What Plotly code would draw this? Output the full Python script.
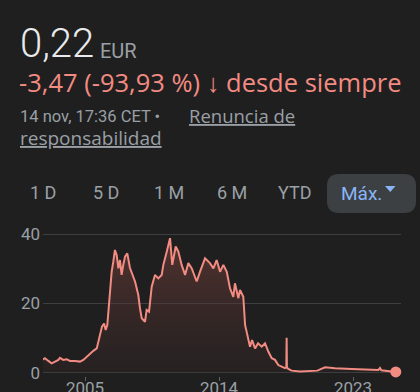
import plotly.graph_objects as go

# ---- data (decimal years, price in EUR) ----
years = [2002.13, 2002.31, 2002.54, 2002.76, 2002.99, 2003.21, 2003.32, 2003.54, 2003.77, 2003.99,
         2004.33, 2004.66, 2004.89, 2005.11, 2005.34, 2005.56, 2005.79, 2005.89, 2006.01, 2006.14,
         2006.28, 2006.39, 2006.50, 2006.56, 2006.68, 2006.79, 2006.90, 2007.01, 2007.13, 2007.24,
         2007.35, 2007.46, 2007.57, 2007.69, 2007.84, 2008.02, 2008.36, 2008.58, 2008.69, 2008.81,
         2009.03, 2009.14, 2009.30, 2009.48, 2009.70, 2009.92, 2010.15, 2010.26, 2010.49, 2010.71,
         2010.86, 2011.09, 2011.27, 2011.49, 2011.72, 2011.94, 2012.17, 2012.50, 2012.72, 2013.06,
         2013.39, 2013.62, 2013.84, 2014.07, 2014.29, 2014.52, 2014.74, 2014.96, 2015.07, 2015.30,
         2015.41, 2015.63, 2015.75, 2015.88, 2016.08, 2016.22, 2016.42, 2016.62, 2016.87, 2017.09,
         2017.31, 2017.54, 2017.76, 2017.98, 2018.21, 2018.43, 2018.52, 2018.54, 2018.56, 2018.65,
         2018.88, 2019.43, 2020.1, 2020.6, 2021.12, 2021.79, 2022.91, 2024.7, 2024.81, 2024.9,
         2025.87]
prices = [3.7, 4.2, 3.4, 2.7, 3.2, 3.7, 4.3, 3.7, 3.9, 3.4,
          3.4, 3.2, 3.7, 4.6, 5.6, 6.3, 7.0, 8.9, 10.4, 13.3,
          14.2, 12.3, 13.8, 17.6, 23.4, 29.1, 32.0, 35.4, 33.9, 30.1,
          32.5, 28.2, 31.1, 33.5, 34.4, 30.2, 26.3, 22.4, 18.6, 15.7,
          14.7, 18.1, 17.6, 24.8, 28.2, 27.2, 28.2, 31.1, 34.9, 38.8,
          31.1, 36.4, 34.9, 31.1, 28.2, 31.6, 30.1, 26.3, 29.1, 33.0,
          31.6, 30.1, 32.5, 29.1, 31.1, 29.1, 24.3, 21.9, 25.8, 21.5,
          23.9, 21.9, 13.8, 10.9, 7.5, 9.4, 7.0, 8.5, 7.5, 8.5,
          6.1, 4.2, 3.7, 2.2, 1.7, 1.3, 1.5, 10.1, 1.5, 1.1,
          0.6, 0.35, 0.5, 0.6, 1.56, 1.3, 1.1, 0.8, 1.35, 0.7,
          0.22]
y_ticks = [0, 20, 40]
x_ticks = [2005, 2014, 2023]
x_tick_labels = ["2005", "2014", "2023"]
ranges = ["1 D", "5 D", "1 M", "6 M", "YTD"]

W, H = 420, 392
BG = "#1f1f1f"
RED = "#f28b82"
GRAY = "#9aa0a6"
WHITE = "#e8eaed"
BLUE = "#8ab4f8"
FONT = "Roboto"
WIDE = "Open Sans"


def px(x):
    return x / W


def py(y):
    return 1 - y / H


fig = go.Figure()
fig.add_trace(go.Scatter(
    x=years, y=prices, mode="lines",
    line=dict(color=RED, width=2),
    fill="tozeroy",
    fillgradient=dict(type="vertical", start=0, stop=40,
                      colorscale=[[0, "rgba(60,40,40,0.25)"], [1, "rgba(120,66,60,0.62)"]]),
    hoverinfo="skip", showlegend=False,
))
fig.add_trace(go.Scatter(
    x=[years[-1]], y=[prices[-1]], mode="markers",
    marker=dict(color=RED, size=11), cliponaxis=False,
    hoverinfo="skip", showlegend=False,
))

# plot area geometry
x0_px, x1_px = 43, 401
y0_px, y1_px = 376, 225
fig.update_layout(
    width=W, height=H, margin=dict(l=0, r=0, t=0, b=0, autoexpand=False),
    paper_bgcolor=BG, plot_bgcolor=BG,
    font=dict(family=FONT, color=GRAY),
    xaxis=dict(domain=[px(x0_px), px(x1_px)], range=[2002.18, 2026.22], automargin=False,
               tickvals=x_ticks, ticktext=x_tick_labels, showgrid=False, zeroline=False,
               ticks="outside", ticklen=4, tickcolor="#5f6368", tickwidth=1,
               ticklabelstandoff=-7,
               tickfont=dict(size=17, color=GRAY, family=FONT), showline=False),
    yaxis=dict(domain=[py(y0_px), py(y1_px)], range=[-0.95, 42.6], automargin=False,
               tickvals=y_ticks, showgrid=True, gridcolor="#3c4043", gridwidth=1,
               zeroline=False, tickfont=dict(size=17, color=GRAY, family=FONT),
               ticklabelstandoff=2),
)

ann = []
ann.append(dict(text="0,22", x=px(18), y=py(43), xanchor="left", yanchor="middle",
                font=dict(size=40, color=WHITE, family=FONT, weight=300)))
ann.append(dict(text="EUR", x=px(98), y=py(50.5), xanchor="left", yanchor="middle",
                font=dict(size=20, color=GRAY, family=FONT)))
ann.append(dict(text="-3,47 (-93,93 %) <b>\u2193</b> desde siempre", x=px(17), y=py(82),
                xanchor="left", yanchor="middle",
                font=dict(size=25.5, color=RED, family=WIDE)))
ann.append(dict(text="14 nov, 17:36 CET \u2022", x=px(18), y=py(116), xanchor="left",
                yanchor="middle", font=dict(size=16.5, color=GRAY, family=FONT)))
ann.append(dict(text="Renuncia de", x=px(187), y=py(115), xanchor="left",
                yanchor="middle", font=dict(size=18.5, color=GRAY, family=WIDE, lineposition="under")))
ann.append(dict(text="responsabilidad", x=px(18), y=py(138), xanchor="left",
                yanchor="middle", font=dict(size=19, color=GRAY, family=WIDE, lineposition="under")))
centers = [43, 106, 169, 232, 295]
for lab, cx in zip(ranges, centers):
    ann.append(dict(text=lab, x=px(cx), y=py(192), xanchor="center", yanchor="middle",
                    font=dict(size=18, color=GRAY, family=FONT)))
ann.append(dict(text="Máx.", x=px(339), y=py(193), xanchor="left", yanchor="middle",
                font=dict(size=19, color=BLUE, family=FONT)))
for a in ann:
    a.update(xref="paper", yref="paper", showarrow=False)
fig.update_layout(annotations=ann)

# rounded button background
bx0, bx1, by0, by1, r = 327, 416, 174, 213, 12
path = (f"M {px(bx0 + r)} {py(by0)} L {px(bx1 - r)} {py(by0)} "
        f"Q {px(bx1)} {py(by0)} {px(bx1)} {py(by0 + r)} L {px(bx1)} {py(by1 - r)} "
        f"Q {px(bx1)} {py(by1)} {px(bx1 - r)} {py(by1)} L {px(bx0 + r)} {py(by1)} "
        f"Q {px(bx0)} {py(by1)} {px(bx0)} {py(by1 - r)} L {px(bx0)} {py(by0 + r)} "
        f"Q {px(bx0)} {py(by0)} {px(bx0 + r)} {py(by0)} Z")
tri = f"M {px(385)} {py(186)} L {px(395.5)} {py(186)} L {px(390.25)} {py(192)} Z"
fig.update_layout(shapes=[
    dict(type="path", path=path, xref="paper", yref="paper", fillcolor="#3c4043",
         line=dict(width=0), layer="below"),
    dict(type="path", path=tri, xref="paper", yref="paper", fillcolor=BLUE,
         line=dict(width=0)),
])

fig.write_html("out.html", config={"displayModeBar": False})
